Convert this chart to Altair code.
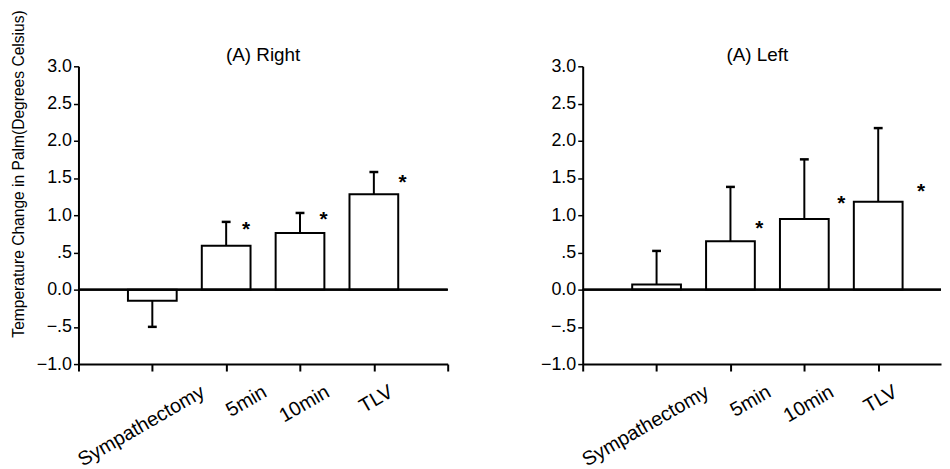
import altair as alt
import pandas as pd

categories = ["Sympathectomy", "5min", "10min", "TLV"]
right_mean = [-0.15, 0.59, 0.76, 1.28]
right_err_end = [-0.50, 0.91, 1.03, 1.58]
left_mean = [0.07, 0.65, 0.95, 1.18]
left_err_end = [0.52, 1.38, 1.75, 2.17]
# significance markers: category index, horizontal shift (category units), height
right_star_cat = [2, 3, 4]
right_star_shift = [0.27, 0.32, 0.39]
right_star_y = [0.85, 0.99, 1.49]
left_star_cat = [2, 3, 4]
left_star_shift = [0.39, 0.50, 0.58]
left_star_y = [0.87, 1.20, 1.36]
y_ticks = [-1.0, -0.5, 0.0, 0.5, 1.0, 1.5, 2.0, 2.5, 3.0]
# horizontal shift of each rotated category label (category units)
label_shift = [0.62, 0.46, 0.31, 0.17]

FONT = "Liberation Sans"
BAR_HALF = 0.33
CAP_HALF = 0.06
HEIGHT = 300

y_label_expr = (
    "datum.value == 0.5 ? '.5' : datum.value == -0.5 ? '\u2212.5' : "
    "replace(format(datum.value, '.1f'), '-', '\u2212')"
)


def panel(title, title_x, means, err_end, star_cat, star_shift, star_y, xmax, width,
          xticks, ytitle):
    df = pd.DataFrame({
        "cat": categories,
        "pos": list(range(1, len(categories) + 1)),
        "mean": means,
        "err": err_end,
        "lshift": label_shift,
    })
    df["x0"] = df["pos"] - BAR_HALF
    df["x1"] = df["pos"] + BAR_HALF
    df["c0"] = df["pos"] - CAP_HALF
    df["c1"] = df["pos"] + CAP_HALF
    df["lx"] = df["pos"] + df["lshift"]
    sdf = pd.DataFrame({"cat": star_cat, "shift": star_shift, "y": star_y})
    sdf["sx"] = sdf["cat"] + sdf["shift"]

    xs = alt.Scale(domain=[0, xmax], nice=False, zero=False)
    ys = alt.Scale(domain=[-1, 3], nice=False, zero=False)

    yaxis_kw = dict(
        values=y_ticks, tickCount=len(y_ticks) + 4, labelExpr=y_label_expr,
        labelFont=FONT, labelFontSize=18,
        labelColor="black", domainColor="black", domainWidth=2, tickColor="black",
        tickWidth=1.5, tickSize=5, grid=False, labelPadding=2, labelOverlap=False,
    )
    if ytitle:
        yaxis_kw.update(
            title=ytitle, titleFont=FONT, titleFontSize=15.7, titleFontWeight="normal",
            titleColor="black", titleAngle=270, titleX=-52, titleY=108,
            titleAlign="center", titleBaseline="bottom",
        )
    else:
        yaxis_kw.update(title=None)
    yaxis = alt.Axis(**yaxis_kw)

    xaxis = alt.Axis(
        values=xticks, tickCount=len(xticks) + 4, labels=False, domainColor="black",
        domainWidth=2, tickColor="black", tickWidth=2, tickSize=7, grid=False,
        title=None,
    )

    base = alt.Chart(df)
    bars = base.mark_bar(fill="white", stroke="black", strokeWidth=2).encode(
        x=alt.X("x0:Q", scale=xs, axis=xaxis),
        x2="x1:Q",
        y=alt.Y("mean:Q", scale=ys, axis=yaxis),
        y2=alt.datum(0),
    )
    zero = base.mark_rule(color="black", strokeWidth=2).encode(
        x=alt.datum(0), x2=alt.datum(xmax), y=alt.datum(0)
    )
    err = base.mark_rule(color="black", strokeWidth=2).encode(
        x=alt.X("pos:Q", scale=xs, axis=xaxis),
        y=alt.Y("mean:Q", scale=ys, axis=yaxis),
        y2="err:Q",
    )
    caps = base.mark_rule(color="black", strokeWidth=2.5).encode(
        x=alt.X("c0:Q", scale=xs, axis=xaxis),
        x2="c1:Q",
        y=alt.Y("err:Q", scale=ys, axis=yaxis),
    )
    xlabels = base.mark_text(
        font=FONT, fontSize=20, color="black", angle=330, align="right",
        baseline="top",
    ).encode(
        x=alt.X("lx:Q", scale=xs, axis=xaxis),
        y=alt.value(HEIGHT + 18),
        text="cat:N",
    )
    stars = alt.Chart(sdf).mark_text(
        text="*", font=FONT, fontSize=21, fontWeight="bold", color="black",
        baseline="middle", dy=4,
    ).encode(
        x=alt.X("sx:Q", scale=xs, axis=xaxis),
        y=alt.Y("y:Q", scale=ys, axis=yaxis),
    )
    ttl = alt.Chart(pd.DataFrame({"t": [title]})).mark_text(
        font=FONT, fontSize=19, color="black", align="center", baseline="middle",
    ).encode(
        x=alt.value(title_x), y=alt.value(-11), text="t:N",
    )
    return alt.layer(bars, zero, err, caps, xlabels, stars, ttl).properties(
        width=width, height=HEIGHT,
    )


right = panel("(A) Right", 186, right_mean, right_err_end, right_star_cat,
              right_star_shift, right_star_y, 5, 372, [0, 1, 2, 3, 4, 5],
              "Temperature Change in Palm(Degrees Celsius)")
left = panel("(A) Left", 176, left_mean, left_err_end, left_star_cat, left_star_shift,
             left_star_y, 4.85, 361, [0, 1, 2, 3, 4], None)

chart = alt.hconcat(right, left, spacing=92).properties(
    padding={"left": 2, "top": 0, "right": 0, "bottom": 0},
    background="white",
).configure_view(stroke=None)

chart.save("out.html", embed_options={"renderer": "svg", "actions": False})
